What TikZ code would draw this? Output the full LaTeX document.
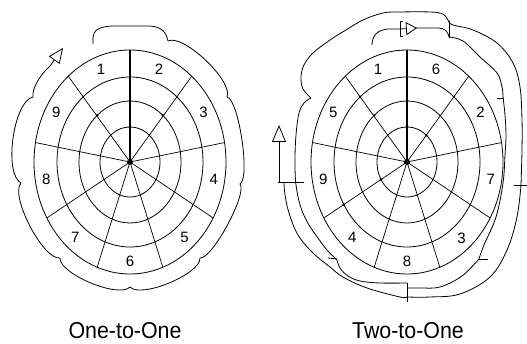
\documentclass[tikz,border=0pt]{standalone}
\usepackage{fontspec}
\setmainfont{Liberation Sans}
\usetikzlibrary{calc,arrows.meta}
\newcommand\bseg[3]{\draw[trk] (#1) .. controls ($(#1)!#3!70:(#2)$) and ($(#2)!#3!-70:(#1)$) .. (#2);}
\begin{document}
\begin{tikzpicture}[x=1pt,y=-1pt,
  trk/.style={line width=0.8pt},
  ring/.style={line width=0.8pt},
  spoke/.style={line width=0.7pt},
  mainspoke/.style={line width=1.4pt},
  lab/.style={font=\fontsize{15}{15}\selectfont, inner sep=0pt},
  captext/.style={font=\fontsize{23}{23}\selectfont, xscale=0.93, inner sep=0pt, anchor=base}]
\useasboundingbox (0,0) rectangle (527,344);
\fill[white] (0,0) rectangle (527,344);

\coordinate (L) at (130,162);
\coordinate (R) at (407,162);

% disks
\foreach \c in {L,R}{
  \foreach \rx/\ry in {96/112,73/85,51/61,30/35}
    \draw[ring] (\c) ellipse [x radius=\rx, y radius=\ry];
  \foreach \a in {130,170,...,410}
    \draw[spoke] (\c) -- ++({-\a}:96 and 112);
  \draw[mainspoke] (\c) -- ++(0,-112);
  \fill (\c) circle (3);
}

% dots
\foreach \a/\p in {90/51 and 61, 90/30 and 35, 130/51 and 61, 50/51 and 61}
  \fill (L) ++({-\a}:\p) circle (1.3);
\foreach \a/\p in {130/73 and 85, 50/73 and 85, 130/51 and 61, 50/30 and 35, -150/73 and 85, -150/30 and 35, 90/51 and 61, 90/30 and 35}
  \fill (R) ++({-\a}:\p) circle (1.3);

% labels
\foreach \a/\t in {110/1,70/2,30/3,-10/4,-50/5,-90/6,-130/7,-170/8,150/9}
  \path (L) ++({-\a}:85 and 99) node[lab] (la\t) {\t};
\foreach \a/\t in {110/1,70/6,30/2,-10/7,-50/3,-90/8,-130/4,-170/9,150/5}
  \path (R) ++({-\a}:85 and 99) node[lab] (lb\t) {\t};

% left track
\coordinate (p110) at (93,44);
\coordinate (p70) at (168,41);
\coordinate (p30) at (227,97);
\coordinate (pm10) at (240,184);
\coordinate (pm50) at (200,258);
\coordinate (pm90) at (130,287);
\coordinate (pm130) at (60,258);
\coordinate (pm170) at (21,183);
\coordinate (p150) at (33,97);
\coordinate (pend) at (63,48);
\draw[trk] (p110) .. controls (92,31) and (96,27) .. (112,26) -- (150,26) .. controls (162,27) and (166,32) .. (p70);
\bseg{p70}{p30}{17pt}
\bseg{p30}{pm10}{12pt}
\bseg{pm10}{pm50}{12pt}
\bseg{pm50}{pm90}{16pt}
\bseg{pm90}{pm130}{16pt}
\bseg{pm130}{pm170}{17pt}
\bseg{pm170}{p150}{20pt}
\draw[trk,-{Triangle[open,length=15pt,width=13pt]}] (p150) .. controls (32,88) and (40,75) .. (50,66) -- (pend);

% right track: inner
\draw[trk] (372,45) .. controls (372,35) and (378,30) .. (388,29) -- (400,29);
\draw[trk] (403,21) -- (400,21) -- (400,36) -- (403,36);
\draw[trk,-{Triangle[open,length=11pt,width=13pt]}] (400,29) -- (417,28);
\draw[trk] (416,28) -- (438,28) .. controls (445,28) and (448,32) .. (449,37);
\draw[trk] (449,21) -- (449,38);
\draw[trk] plot[smooth,tension=0.6] coordinates {(449,37) (463,41) (480,57) (497,73) (502,87) (503,97)};
\draw[trk] (497,98) -- (504,98);
\draw[trk] plot[smooth,tension=0.6] coordinates {(503,97) (505,115) (506,135) (505,155) (503,183) (496,217) (484,245) (479,259)};
\draw[trk] (479,259) -- (488,259);
\draw[trk] plot[smooth,tension=0.6] coordinates {(479,259) (462,276) (440,287) (420,288) (407,288)};
\draw[trk] plot[smooth,tension=0.6] coordinates {(407,283) (380,283) (360,281) (348,276) (340,268) (337,260)};
\draw[trk] (337,259) -- (328,258);
\draw[trk] plot[smooth,tension=0.6] coordinates {(337,260) (327,250) (318,238) (309,225) (301,208) (296,185) (295,160) (296,135) (299,113) (304,103) (311,98)};
% right track: outer
\draw[trk] plot[smooth,tension=0.6] coordinates {(311,98) (303,89) (301,77) (304,65) (313,53) (330,40) (346,30) (363,20) (383,13) (400,12) (430,12) (443,14) (449,22)};
\draw[trk] plot[smooth,tension=0.6] coordinates {(449,22) (453,25) (473,30) (497,43) (513,63) (520,87) (522,120) (522,150) (521,185)};
\draw[trk] (514,185) -- (527,185);
\draw[trk] plot[smooth,tension=0.6] coordinates {(521,185) (517,217) (507,250) (490,277) (460,294) (430,297) (407,297)};
\draw[trk] (407,283) -- (407,302);
\draw[trk] plot[smooth,tension=0.6] coordinates {(407,297) (400,297) (367,288) (343,277) (330,267) (313,253) (298,235) (289,213) (285,195) (284,183)};
\draw[trk] (278,182) -- (304,182);
\draw[trk,-{Triangle[open,length=17pt,width=14pt]}] (279,182) -- (279,125);

% captions
\node[captext] (c1) at (125,338) {One-to-One};
\node[captext] (c2) at (408,338) {Two-to-One};
\end{tikzpicture}
\end{document}
